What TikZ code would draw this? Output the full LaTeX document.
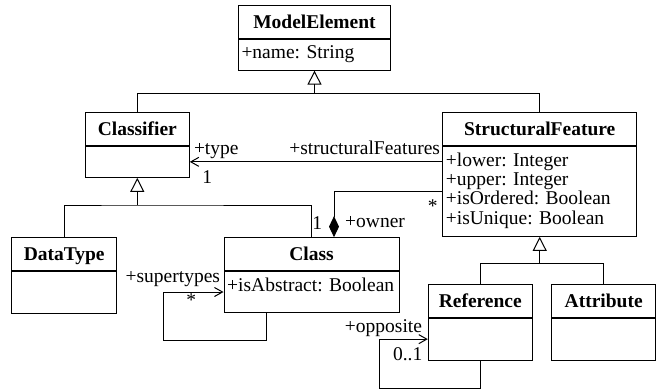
\documentclass[tikz,border=0pt]{standalone}
\usepackage{fontspec}
\setmainfont{Liberation Serif}
\usetikzlibrary{arrows.meta,positioning}

\begin{document}
\begin{tikzpicture}[x=1pt,y=1pt,
            every node/.style={font=\fontsize{19.5}{19.3}\selectfont},
            clshead/.style={draw,line width=1pt,minimum height=33pt,inner sep=0pt,text height=13.3pt,text depth=0pt,font=\fontsize{19.5}{19.3}\selectfont\bfseries},
            clsbody/.style={draw,line width=1pt,inner sep=0pt,anchor=north},
            clsattr/.style={anchor=north west,align=left,inner xsep=3.5pt,inner ysep=0pt},
            lbl/.style={inner sep=0pt},
            link/.style={line width=1pt},
            gen/.style={line width=1pt,-{Triangle[open,length=14pt,width=14pt]}},
            assoc/.style={line width=1pt,-{Straight Barb[length=8pt,width=9pt]}},
            comp/.style={line width=1pt,-{Diamond[length=21pt,width=10pt]}}]
            \useasboundingbox (0,0) rectangle (657,-391);
            \node[clshead,minimum width=152.4pt] (me) at (314.5,-21.65) {ModelElement};
            \node[clsbody,minimum width=152.4pt,minimum height=31pt] (meb) at (me.south) {};
            \node[clsattr] (mea) at ([yshift=-6.7pt]meb.north west) {+name: String};
            \node[clshead,minimum width=104pt] (cf) at (137.3,-128.85) {Classifier};
            \node[clsbody,minimum width=104pt,minimum height=31pt] (cfb) at (cf.south) {};
            \node[clshead,minimum width=194pt] (sf) at (539.7,-128.85) {StructuralFeature};
            \node[clsbody,minimum width=194pt,minimum height=90pt] (sfb) at (sf.south) {};
            \node[clsattr] (sfa) at ([yshift=-6.7pt]sfb.north west) {+lower: Integer\\+upper: Integer\\+isOrdered: Boolean\\+isUnique: Boolean};
            \node[clshead,minimum width=105pt] (dt) at (64.2,-254.2) {DataType};
            \node[clsbody,minimum width=105pt,minimum height=41.6pt] (dtb) at (dt.south) {};
            \node[clshead,minimum width=175pt] (cl) at (311.5,-254.15) {Class};
            \node[clsbody,minimum width=175pt,minimum height=40.7pt] (clb) at (cl.south) {};
            \node[clsattr] (cla) at ([yshift=-6.7pt]clb.north west) {+isAbstract: Boolean};
            \node[clshead,minimum width=104pt] (rf) at (480.3,-300.8) {Reference};
            \node[clsbody,minimum width=104pt,minimum height=41.7pt] (rfb) at (rf.south) {};
            \node[clshead,minimum width=104pt] (at) at (603.7,-300.8) {Attribute};
            \node[clsbody,minimum width=104pt,minimum height=41.7pt] (atb) at (at.south) {};
            \coordinate (g1) at (314.5,-93.3);
            \draw[link] (cf.north) |- (g1) -| (sf.north);
            \draw[gen] (g1) -- (meb.south);
            \coordinate (g2) at (137.3,-205);
            \draw[link] (dt.north) |- (g2) -| (cl.north);
            \draw[gen] (g2) -- (cfb.south);
            \coordinate (g3) at (539.7,-263.3);
            \draw[link] (rf.north) |- (g3) -| (at.north);
            \draw[gen] (g3) -- (sfb.south);
            \coordinate (sfend) at (sfb.west |- cfb.east);
            \draw[assoc] (sfend) -- (cfb.east);
            \node[lbl,anchor=base west] (tp) at ([xshift=4pt,yshift=7.5pt]cfb.east) {+type};
            \node[lbl,anchor=base west] (tpm) at ([xshift=12.4pt,yshift=-22pt]cfb.east) {1};
            \node[lbl,anchor=base east] (sfs) at ([xshift=-2pt,yshift=7.5pt]sfend) {+structuralFeatures};
            \coordinate (cp) at ([xshift=22.5pt]cl.north);
            \draw[comp] (sfb.west) -| (cp);
            \node[lbl,anchor=base east] (sfm) at ([xshift=-4.5pt,yshift=-20.7pt]sfb.west) {*};
            \node[lbl,anchor=base east] (owm) at ([xshift=-11.7pt,yshift=7.7pt]cp) {1};
            \node[lbl,anchor=base west] (ow) at ([xshift=11pt,yshift=9.8pt]cp) {+owner};
            \coordinate (sl) at (163.3,-340.7);
            \draw[assoc] ([xshift=-44.8pt]clb.south) |- (sl) |- (clb.west);
            \node[lbl,anchor=base east] (sup) at ([xshift=-3.3pt,yshift=9.6pt]clb.west) {+supertypes};
            \node[lbl,anchor=base] (supm) at ([xshift=-32.3pt,yshift=-14.5pt]clb.west) {*};
            \coordinate (ol) at (379,-388.3);
            \draw[assoc] (rfb.south) |- (ol) |- (rfb.west);
            \node[lbl,anchor=base east] (op) at ([xshift=-5.6pt,yshift=6.5pt]rfb.west) {+opposite};
            \node[lbl,anchor=base east] (opm) at ([xshift=-5.3pt,yshift=-21.1pt]rfb.west) {0..1};
        \end{tikzpicture}
\end{document}
